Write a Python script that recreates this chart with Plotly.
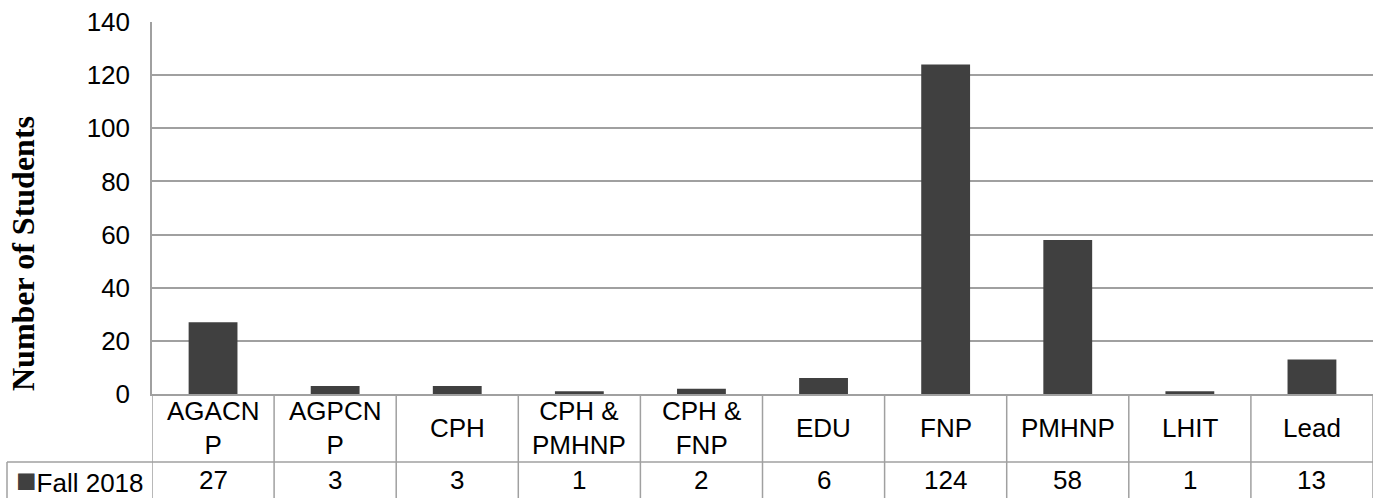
import plotly.graph_objects as go

categories = ["AGACNP", "AGPCNP", "CPH", "CPH & PMHNP", "CPH & FNP", "EDU", "FNP", "PMHNP", "LHIT", "Lead"]
category_labels = ["AGACN<br>P", "AGPCN<br>P", "CPH", "CPH &<br>PMHNP", "CPH &<br>FNP", "EDU", "FNP", "PMHNP", "LHIT", "Lead"]
series_name = "Fall 2018"
values = [27, 3, 3, 1, 2, 6, 124, 58, 1, 13]
y_ticks = [0, 20, 40, 60, 80, 100, 120, 140]

W, H = 1381, 498
L, R, T, B = 152, 8, 22, 104
plot_w = W - L - R
plot_h = H - T - B

def py(pix):
    return (H - B - pix) / plot_h

def px(pix):
    return (pix - L) / plot_w

bar_color = "#404040"
line_color = "#a0a0a0"
font_sans = "Liberation Sans, Arial, sans-serif"
FS = 26

fig = go.Figure()
fig.add_trace(go.Bar(x=categories, y=values, marker=dict(color=bar_color, line=dict(width=0)),
                     name=series_name, showlegend=False))

shapes = []
row_y = py(462)
bottom_y = py(H + 5)
for i in range(len(categories) + 1):
    shapes.append(dict(type="line", xref="x", yref="paper", x0=i - 0.5, x1=i - 0.5,
                       y0=0, y1=bottom_y, line=dict(color=line_color, width=1.5)))
shapes.append(dict(type="line", xref="paper", yref="paper", x0=px(7), x1=1,
                   y0=row_y, y1=row_y, line=dict(color=line_color, width=1.5)))
shapes.append(dict(type="line", xref="paper", yref="paper", x0=px(7), x1=px(7),
                   y0=row_y, y1=bottom_y, line=dict(color=line_color, width=1.5)))

annotations = []
for c, lab in zip(categories, category_labels):
    annotations.append(dict(x=c, xref="x", y=py(428), yref="paper", text=lab, showarrow=False,
                            xanchor="center", yanchor="middle",
                            font=dict(family=font_sans, size=FS, color="#000000")))
for c, v in zip(categories, values):
    annotations.append(dict(x=c, xref="x", y=py(480), yref="paper", text=str(v), showarrow=False,
                            xanchor="center", yanchor="middle",
                            font=dict(family=font_sans, size=FS, color="#000000")))
annotations.append(dict(x=px(80), xref="paper", y=py(480), yref="paper",
                        text='<span style="color:%s;font-size:34px">■</span>%s' % (bar_color, series_name),
                        showarrow=False, xanchor="center", yanchor="middle",
                        font=dict(family=font_sans, size=FS, color="#000000")))
annotations.append(dict(x=px(23), xref="paper", y=py(254), yref="paper", text="<b>Number of Students</b>",
                        textangle=-90, showarrow=False, xanchor="center", yanchor="middle",
                        font=dict(family="Liberation Serif, Times New Roman, serif", size=32, color="#000000")))

fig.update_layout(
    width=W, height=H,
    margin=dict(l=L, r=R, t=T, b=B, pad=0),
    paper_bgcolor="white", plot_bgcolor="white",
    bargap=0.6,
    shapes=shapes,
    annotations=annotations,
    xaxis=dict(type="category", range=[-0.5, len(categories) - 0.5], showticklabels=False,
               showgrid=False, showline=True, linecolor=line_color, linewidth=1.5, ticks="",
               zeroline=False, fixedrange=True),
    yaxis=dict(range=[0, 140], tickvals=y_ticks, showgrid=True, gridcolor=line_color, gridwidth=1.5,
               showline=True, linecolor=line_color, linewidth=1.5, ticks="", zeroline=False,
               ticklabelstandoff=15,
               tickfont=dict(family=font_sans, size=FS, color="#000000")),
)

fig.write_html("out.html", config={"displayModeBar": False},
               post_script="document.body.style.margin='0px';document.body.style.overflow='hidden';")
